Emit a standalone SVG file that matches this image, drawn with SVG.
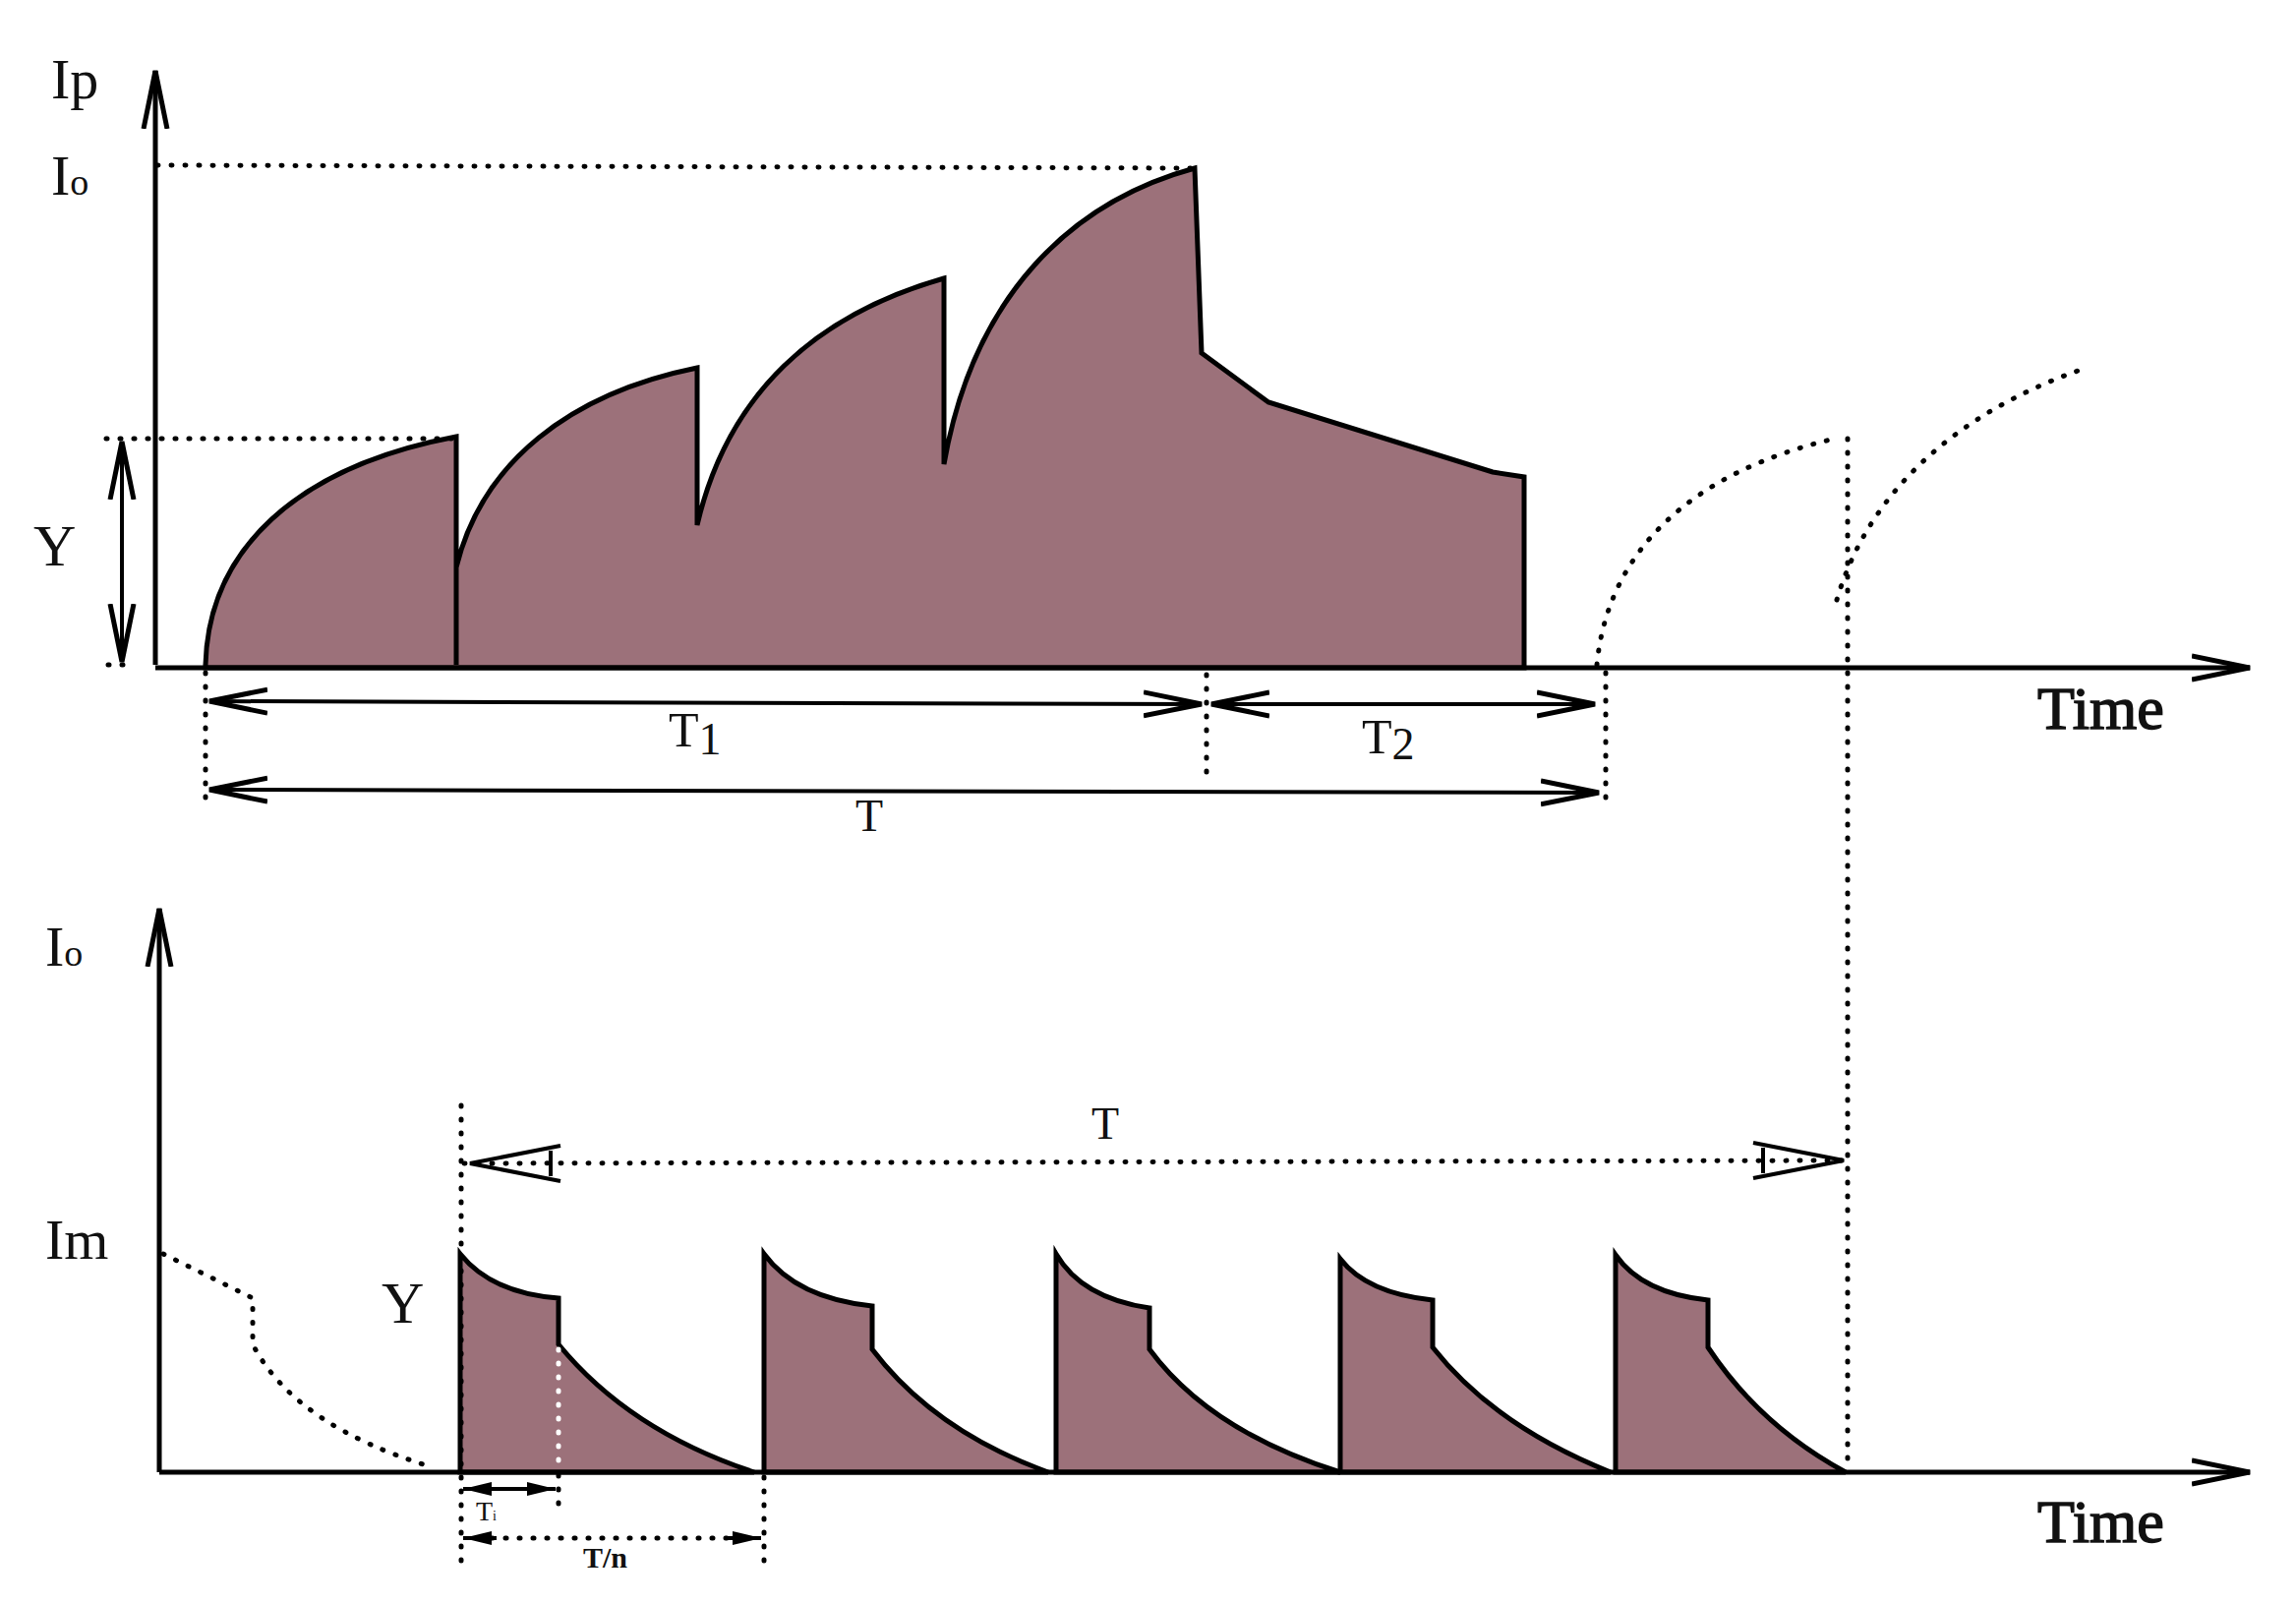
<svg xmlns="http://www.w3.org/2000/svg" width="2335" height="1630" viewBox="0 0 2335 1630">
<defs>
<style>
.ax{stroke:#000;stroke-width:5;fill:none}
.ln{stroke:#000;stroke-width:4;fill:none}
.dot{stroke:#000;stroke-width:5;fill:none;stroke-dasharray:1 13;stroke-linecap:round}
.dotw{stroke:#fff;stroke-width:5;fill:none;stroke-dasharray:1 13;stroke-linecap:round}
.fill{fill:#9c717a;stroke:#000;stroke-width:5;stroke-linejoin:miter}
text{font-family:"Liberation Serif","Times New Roman",serif;fill:#111}
</style>
<marker id="ob" viewBox="0 0 60 30" refX="59" refY="15" markerWidth="60" markerHeight="30" markerUnits="userSpaceOnUse" orient="auto-start-reverse">
<path d="M0,3 L59,15 L0,27" fill="none" stroke="#000" stroke-width="5"/>
</marker>
<marker id="sa" viewBox="0 0 30 14" refX="29" refY="7" markerWidth="30" markerHeight="14" markerUnits="userSpaceOnUse" orient="auto-start-reverse">
<path d="M0,0 L29,7 L0,14 Z" fill="#000"/>
</marker>
</defs>

<g id="upper-fill">
<path class="fill" d="M209,676 C212,560 300,475 464,444 L464,676 L464,577 C490,470 580,400 709,374 L709,534 C740,400 830,320 960,283 L960,472 C990,300 1090,205 1215,171 L1222,359 L1290,409 L1518,480 L1550,485 L1550,679 L209,679 Z"/>
</g>

<g id="lower-fill">
<path class="fill" d="M468,1497 L468,1275 Q500,1315 568,1320 L568,1367 Q640,1455 767,1497 Z"/>
<path class="fill" d="M777,1497 L777,1275 Q810,1320 887,1328 L887,1372 Q950,1455 1066,1497 Z"/>
<path class="fill" d="M1074,1497 L1074,1275 Q1100,1320 1169,1330 L1169,1372 Q1230,1455 1363,1497 Z"/>
<path class="fill" d="M1363,1497 L1363,1280 Q1390,1315 1457,1322 L1457,1370 Q1520,1450 1638,1497 Z"/>
<path class="fill" d="M1643,1497 L1643,1276 Q1670,1315 1737,1322 L1737,1370 Q1790,1450 1877,1497 Z"/>
</g>

<g id="axes">
<path class="ax" d="M158,676 L158,72" marker-end="url(#ob)"/>
<path class="ax" d="M158,679 L2288,679" marker-end="url(#ob)"/>
<path class="ax" d="M162,1497 L162,924" marker-end="url(#ob)"/>
<path class="ax" d="M162,1497 L2288,1497" marker-end="url(#ob)"/>
</g>

<g id="connectors">
<path class="dot" d="M160,168 L1212,171"/>
<path class="dot" d="M108,446 L462,446"/>
<path class="dot" d="M110,676 L130,676"/>
<path class="ln" d="M124,449 L124,673" marker-start="url(#ob)" marker-end="url(#ob)"/>
<path class="dot" d="M209,684 L209,824"/>
<path class="dot" d="M1227,686 L1227,788"/>
<path class="dot" d="M1633,684 L1633,822"/>
<path class="ln" d="M213,713 L1222,716" marker-start="url(#ob)" marker-end="url(#ob)"/>
<path class="ln" d="M1232,716 L1622,716" marker-start="url(#ob)" marker-end="url(#ob)"/>
<path class="ln" d="M213,803 L1626,806" marker-start="url(#ob)" marker-end="url(#ob)"/>
<path class="dot" d="M1624,676 C1635,560 1720,480 1866,446"/>
<path class="dot" d="M1879,446 L1879,1492"/>
<path class="dot" d="M1868,610 C1900,500 1990,420 2116,376"/>
<path class="dot" d="M166,1275 L257,1320 L257,1367 Q300,1450 440,1492"/>
<path class="dot" d="M469,1124 L469,1594"/>
<path class="dot" d="M472,1183 L1875,1180"/>
<path class="ln" d="M570,1165 L478,1183 L570,1201 M560,1170 L560,1196"/>
<path class="ln" d="M1783,1162 L1875,1180 L1783,1198 M1793,1167 L1793,1193"/>
<path class="dotw" d="M568,1372 L568,1494"/>
<path class="dot" d="M568,1500 L568,1541"/>
<path class="dot" d="M777,1502 L777,1594"/>
<path class="ln" d="M471,1514 L565,1514" stroke-width="3" marker-start="url(#sa)" marker-end="url(#sa)"/>
<path class="dot" d="M500,1564 L745,1564"/>
<path class="ln" d="M471,1564 L505,1564" stroke-width="3" marker-start="url(#sa)"/>
<path class="ln" d="M740,1564 L774,1564" stroke-width="3" marker-end="url(#sa)"/>
</g>

<g id="labels">
<text x="52" y="100" font-size="58">Ip</text>
<text x="52" y="198" font-size="58">I<tspan font-size="38">o</tspan></text>
<text x="34" y="575" font-size="60">Y</text>
<text x="680" y="759" font-size="50">T<tspan font-size="46" dy="8">1</tspan></text>
<text x="1385" y="766" font-size="50">T<tspan font-size="46" dy="6">2</tspan></text>
<text x="870" y="845" font-size="46">T</text>
<text x="2072" y="741" font-size="62" stroke="#111" stroke-width="1.5">Time</text>
<text x="46" y="982" font-size="58">I<tspan font-size="38">o</tspan></text>
<text x="46" y="1280" font-size="58">Im</text>
<text x="388" y="1345" font-size="60">Y</text>
<text x="1110" y="1158" font-size="46">T</text>
<text x="2072" y="1568" font-size="62" stroke="#111" stroke-width="1.5">Time</text>
<text x="484" y="1546" font-size="28">T<tspan font-size="14">i</tspan></text>
<text x="593" y="1594" font-size="30" font-weight="bold">T/n</text>
</g>
</svg>
